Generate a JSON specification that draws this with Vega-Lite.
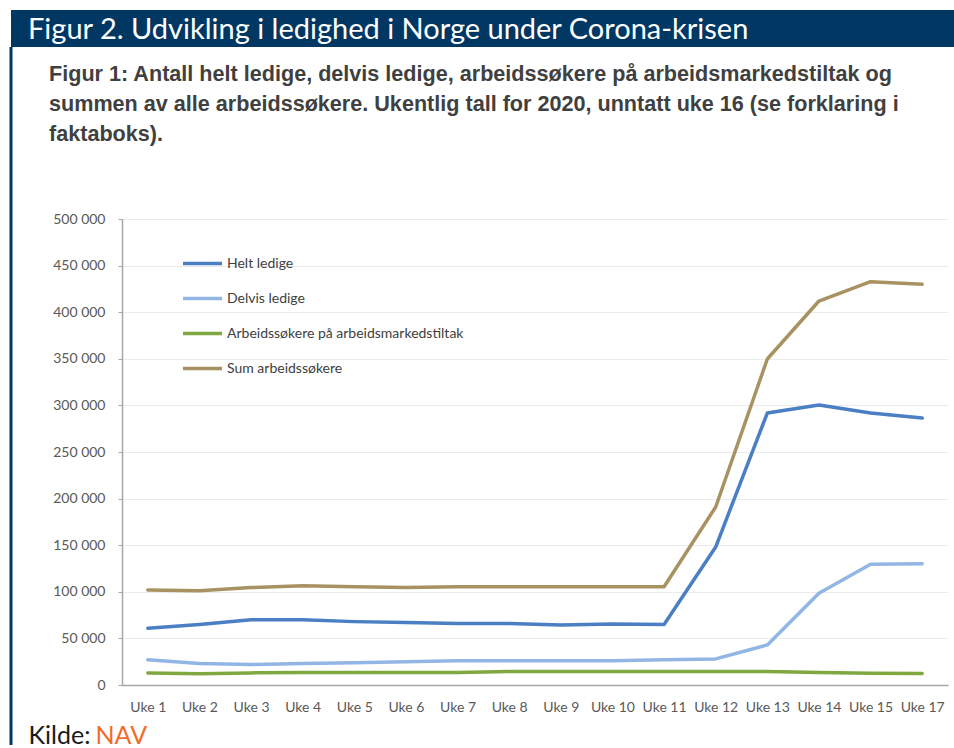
{
  "$schema": "https://vega.github.io/schema/vega-lite/v6.json",
  "padding": {"left": 9, "top": 10, "right": 0, "bottom": 0},
  "background": "white",
  "spacing": 0,
  "bounds": "flush",
  "config": {"view": {"stroke": null}, "font": "Lato"},
  "vconcat": [
    {
      "width": 943,
      "height": 37,
      "view": {"fill": "#003763", "stroke": null},
      "title": {
        "text": "Figur 2. Udvikling i ledighed i Norge under Corona-krisen",
        "anchor": "start", "frame": "group", "orient": "top",
        "offset": -58, "dx": 17, "baseline": "alphabetic",
        "font": "Lato", "fontSize": 29, "fontWeight": "normal", "color": "white"
      },
      "data": {"values": []},
      "mark": "point"
    },
    {
      "width": 943,
      "height": 698,
      "view": {"stroke": "#003763", "strokeWidth": 3, "strokeDash": [0, 2584, 698, 0], "fill": "white"},
      "title": {
        "text": [
          "Figur 1: Antall helt ledige, delvis ledige, arbeidssøkere på arbeidsmarkedstiltak og",
          "summen av alle arbeidssøkere. Ukentlig tall for 2020, unntatt uke 16 (se forklaring i",
          "faktaboks)."
        ],
        "anchor": "start", "frame": "group", "orient": "top",
        "offset": -116, "dx": 38, "baseline": "alphabetic",
        "font": "Liberation Sans", "fontSize": 21.6, "fontWeight": "bold", "color": "#404040", "lineHeight": 30
      },
      "data": {"values": [
        {"uke": "Uke 1", "serie": "Helt ledige", "antall": 61000},
        {"uke": "Uke 2", "serie": "Helt ledige", "antall": 65000},
        {"uke": "Uke 3", "serie": "Helt ledige", "antall": 70000},
        {"uke": "Uke 4", "serie": "Helt ledige", "antall": 70000},
        {"uke": "Uke 5", "serie": "Helt ledige", "antall": 68000},
        {"uke": "Uke 6", "serie": "Helt ledige", "antall": 67000},
        {"uke": "Uke 7", "serie": "Helt ledige", "antall": 66000},
        {"uke": "Uke 8", "serie": "Helt ledige", "antall": 66000},
        {"uke": "Uke 9", "serie": "Helt ledige", "antall": 64500},
        {"uke": "Uke 10", "serie": "Helt ledige", "antall": 65500},
        {"uke": "Uke 11", "serie": "Helt ledige", "antall": 65000},
        {"uke": "Uke 12", "serie": "Helt ledige", "antall": 148000},
        {"uke": "Uke 13", "serie": "Helt ledige", "antall": 291800},
        {"uke": "Uke 14", "serie": "Helt ledige", "antall": 300400},
        {"uke": "Uke 15", "serie": "Helt ledige", "antall": 291800},
        {"uke": "Uke 17", "serie": "Helt ledige", "antall": 286500},
        {"uke": "Uke 1", "serie": "Delvis ledige", "antall": 27000},
        {"uke": "Uke 2", "serie": "Delvis ledige", "antall": 23000},
        {"uke": "Uke 3", "serie": "Delvis ledige", "antall": 22000},
        {"uke": "Uke 4", "serie": "Delvis ledige", "antall": 23000},
        {"uke": "Uke 5", "serie": "Delvis ledige", "antall": 24000},
        {"uke": "Uke 6", "serie": "Delvis ledige", "antall": 25000},
        {"uke": "Uke 7", "serie": "Delvis ledige", "antall": 26000},
        {"uke": "Uke 8", "serie": "Delvis ledige", "antall": 26000},
        {"uke": "Uke 9", "serie": "Delvis ledige", "antall": 26000},
        {"uke": "Uke 10", "serie": "Delvis ledige", "antall": 26000},
        {"uke": "Uke 11", "serie": "Delvis ledige", "antall": 27000},
        {"uke": "Uke 12", "serie": "Delvis ledige", "antall": 28000},
        {"uke": "Uke 13", "serie": "Delvis ledige", "antall": 43000},
        {"uke": "Uke 14", "serie": "Delvis ledige", "antall": 98500},
        {"uke": "Uke 15", "serie": "Delvis ledige", "antall": 129500},
        {"uke": "Uke 17", "serie": "Delvis ledige", "antall": 130000},
        {"uke": "Uke 1", "serie": "Arbeidssøkere på arbeidsmarkedstiltak", "antall": 13000},
        {"uke": "Uke 2", "serie": "Arbeidssøkere på arbeidsmarkedstiltak", "antall": 12000},
        {"uke": "Uke 3", "serie": "Arbeidssøkere på arbeidsmarkedstiltak", "antall": 13000},
        {"uke": "Uke 4", "serie": "Arbeidssøkere på arbeidsmarkedstiltak", "antall": 13500},
        {"uke": "Uke 5", "serie": "Arbeidssøkere på arbeidsmarkedstiltak", "antall": 13500},
        {"uke": "Uke 6", "serie": "Arbeidssøkere på arbeidsmarkedstiltak", "antall": 13500},
        {"uke": "Uke 7", "serie": "Arbeidssøkere på arbeidsmarkedstiltak", "antall": 13500},
        {"uke": "Uke 8", "serie": "Arbeidssøkere på arbeidsmarkedstiltak", "antall": 14500},
        {"uke": "Uke 9", "serie": "Arbeidssøkere på arbeidsmarkedstiltak", "antall": 14500},
        {"uke": "Uke 10", "serie": "Arbeidssøkere på arbeidsmarkedstiltak", "antall": 14500},
        {"uke": "Uke 11", "serie": "Arbeidssøkere på arbeidsmarkedstiltak", "antall": 14500},
        {"uke": "Uke 12", "serie": "Arbeidssøkere på arbeidsmarkedstiltak", "antall": 14500},
        {"uke": "Uke 13", "serie": "Arbeidssøkere på arbeidsmarkedstiltak", "antall": 14500},
        {"uke": "Uke 14", "serie": "Arbeidssøkere på arbeidsmarkedstiltak", "antall": 13500},
        {"uke": "Uke 15", "serie": "Arbeidssøkere på arbeidsmarkedstiltak", "antall": 12500},
        {"uke": "Uke 17", "serie": "Arbeidssøkere på arbeidsmarkedstiltak", "antall": 12300},
        {"uke": "Uke 1", "serie": "Sum arbeidssøkere", "antall": 102000},
        {"uke": "Uke 2", "serie": "Sum arbeidssøkere", "antall": 101000},
        {"uke": "Uke 3", "serie": "Sum arbeidssøkere", "antall": 104500},
        {"uke": "Uke 4", "serie": "Sum arbeidssøkere", "antall": 106500},
        {"uke": "Uke 5", "serie": "Sum arbeidssøkere", "antall": 105500},
        {"uke": "Uke 6", "serie": "Sum arbeidssøkere", "antall": 104500},
        {"uke": "Uke 7", "serie": "Sum arbeidssøkere", "antall": 105500},
        {"uke": "Uke 8", "serie": "Sum arbeidssøkere", "antall": 105500},
        {"uke": "Uke 9", "serie": "Sum arbeidssøkere", "antall": 105500},
        {"uke": "Uke 10", "serie": "Sum arbeidssøkere", "antall": 105500},
        {"uke": "Uke 11", "serie": "Sum arbeidssøkere", "antall": 105500},
        {"uke": "Uke 12", "serie": "Sum arbeidssøkere", "antall": 191000},
        {"uke": "Uke 13", "serie": "Sum arbeidssøkere", "antall": 349800},
        {"uke": "Uke 14", "serie": "Sum arbeidssøkere", "antall": 412000},
        {"uke": "Uke 15", "serie": "Sum arbeidssøkere", "antall": 432700},
        {"uke": "Uke 17", "serie": "Sum arbeidssøkere", "antall": 430000}
      ]},
      "mark": {"type": "line", "strokeWidth": 3.5, "strokeCap": "round", "strokeJoin": "round"},
      "encoding": {
        "x": {
          "field": "uke", "type": "ordinal",
          "sort": ["Uke 1", "Uke 2", "Uke 3", "Uke 4", "Uke 5", "Uke 6", "Uke 7", "Uke 8", "Uke 9", "Uke 10", "Uke 11", "Uke 12", "Uke 13", "Uke 14", "Uke 15", "Uke 17"],
          "scale": {"type": "point", "range": [111, 937], "padding": 0.5},
          "axis": {
            "offset": -60, "labelAngle": 0, "labelFont": "Lato", "labelFontSize": 14, "labelColor": "#595959",
            "labelPadding": 15, "ticks": false, "domainColor": "#a6a6a6", "domainWidth": 1.5, "grid": false,
            "labelOverlap": false,
            "title": "Kilde:", "titleX": 17, "titleY": 58, "titleAlign": "left", "titleAnchor": "start",
            "titleBaseline": "alphabetic", "titleFont": "Lato", "titleFontSize": 25, "titleFontWeight": "normal", "titleColor": "#1a1a1a"
          }
        },
        "y": {
          "field": "antall", "type": "quantitative",
          "scale": {"domain": [0, 500000], "range": [638, 172], "nice": false, "zero": true},
          "axis": {
            "offset": -111,
            "values": [0, 50000, 100000, 150000, 200000, 250000, 300000, 350000, 400000, 450000, 500000],
            "labelExpr": "datum.value == 0 ? '0' : format(datum.value / 1000, 'd') + ' 000'",
            "labelFont": "Lato", "labelFontSize": 14, "labelColor": "#595959", "labelPadding": 13,
            "tickSize": 4, "tickColor": "#a6a6a6", "domainColor": "#a6a6a6", "domainWidth": 1.5,
            "grid": true, "gridColor": "#ebebeb", "gridWidth": 1.2,
            "title": "NAV", "titleX": -27, "titleY": 696, "titleAngle": 0, "titleAlign": "left",
            "titleBaseline": "alphabetic", "titleFont": "Lato", "titleFontSize": 25, "titleFontWeight": "normal", "titleColor": "#f26b2a"
          }
        },
        "color": {
          "field": "serie", "type": "nominal",
          "scale": {
            "domain": ["Helt ledige", "Delvis ledige", "Arbeidssøkere på arbeidsmarkedstiltak", "Sum arbeidssøkere"],
            "range": ["#4a7fc4", "#92b6e4", "#80a840", "#a99262"]
          },
          "legend": {
            "orient": "none", "legendX": 170, "legendY": 232, "title": null,
            "symbolType": "stroke", "symbolSize": 1521, "symbolStrokeWidth": 3.5,
            "labelFont": "Lato", "labelFontSize": 14, "labelColor": "#404040",
            "rowPadding": 6, "labelOffset": 3, "padding": 0, "labelLimit": 400
          }
        }
      }
    }
  ]
}
